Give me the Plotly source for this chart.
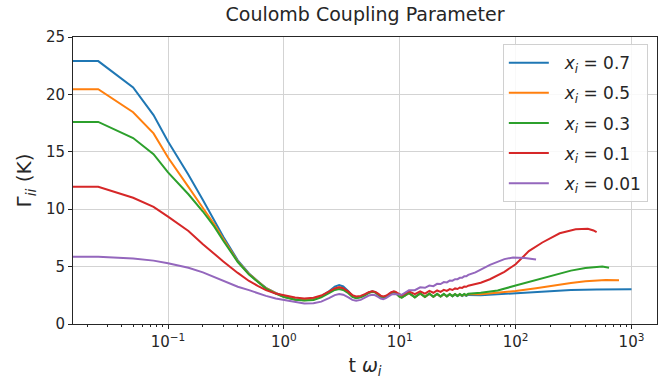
import plotly.graph_objects as go

# ---------------------------------------------------------------------------
# Coulomb coupling parameter Gamma_ii(t) for several ion fractions x_i
# ---------------------------------------------------------------------------

LABELS = ["0.7", "0.5", "0.3", "0.1", "0.01"]
COLORS = ["#1f77b4", "#ff7f0e", "#2ca02c", "#d62728", "#9467bd"]

# t = 0 cannot sit on a log axis; a tiny positive time stands in for it
T_EARLY = [0.001, 0.025, 0.05, 0.075, 0.1, 0.125, 0.15, 0.2, 0.25, 0.3,
           0.4, 0.5, 0.6, 0.7, 0.85]

# plasma-oscillation window
T_OSC = [1.0, 1.25, 1.5, 1.8, 2.1, 2.45, 2.75, 3.0, 3.25, 3.6, 3.9, 4.2,
         4.6, 5.0, 5.4, 5.8, 6.15, 6.5, 6.85, 7.2, 7.6, 8.0, 8.45, 8.9,
         9.25, 9.6, 10.0, 10.4,
         12.0, 13.5, 15.0, 16.5, 18.0, 19.5, 21.0, 22.5, 24.0, 25.5, 27.0,
         28.5, 30.0, 31.5, 33.0, 34.5, 36.0, 37.5, 39.0]

# x_i = 0.7
G07_EARLY = [22.9, 22.9, 20.6, 18.2, 15.9, 14.35, 13.0, 10.8, 9.1, 7.6,
             5.55, 4.4, 3.7, 3.15, 2.7]
G07_OSC = [2.4, 2.15, 2.08, 2.15, 2.4, 2.85, 3.25, 3.4, 3.27, 2.85, 2.45,
           2.3, 2.36, 2.55, 2.76, 2.85, 2.78, 2.58, 2.38, 2.3, 2.38, 2.55,
           2.72, 2.8, 2.72, 2.55, 2.38, 2.32,
           2.68, 2.34, 2.65, 2.36, 2.62, 2.38, 2.6, 2.4, 2.58, 2.41, 2.57,
           2.42, 2.56, 2.43, 2.55, 2.44, 2.54, 2.45, 2.53]
T07_TAIL = [50, 70, 100, 150, 200, 300, 500, 700, 1000]
G07_TAIL = [2.5, 2.58, 2.68, 2.8, 2.88, 2.96, 3.0, 3.02, 3.02]

# x_i = 0.5
G05_EARLY = [20.45, 20.45, 18.45, 16.6, 14.5, 13.15, 11.95, 10.1, 8.7, 7.4,
             5.45, 4.35, 3.65, 3.12, 2.68]
G05_OSC = [2.38, 2.14, 2.07, 2.14, 2.38, 2.78, 3.1, 3.2, 3.1, 2.75, 2.4,
           2.28, 2.34, 2.52, 2.73, 2.82, 2.76, 2.57, 2.38, 2.3, 2.37, 2.53,
           2.72, 2.8, 2.72, 2.55, 2.37, 2.31,
           2.69, 2.33, 2.66, 2.36, 2.64, 2.38, 2.62, 2.4, 2.6, 2.42, 2.6,
           2.44, 2.59, 2.46, 2.59, 2.48, 2.59, 2.5, 2.6]
T05_TAIL = [50, 70, 100, 150, 200, 300, 400, 500, 600, 780]
G05_TAIL = [2.6, 2.72, 2.88, 3.12, 3.32, 3.58, 3.72, 3.8, 3.83, 3.82]

# x_i = 0.3
G03_EARLY = [17.6, 17.6, 16.2, 14.8, 13.2, 12.2, 11.3, 9.8, 8.5, 7.25,
             5.4, 4.3, 3.6, 3.08, 2.65]
G03_OSC = [2.35, 2.12, 2.05, 2.1, 2.32, 2.68, 2.97, 3.05, 2.97, 2.68, 2.36,
           2.25, 2.32, 2.5, 2.7, 2.8, 2.74, 2.56, 2.37, 2.3, 2.37, 2.53,
           2.7, 2.78, 2.7, 2.53, 2.36, 2.3,
           2.7, 2.32, 2.68, 2.35, 2.66, 2.37, 2.64, 2.39, 2.63, 2.41, 2.62,
           2.43, 2.62, 2.45, 2.62, 2.48, 2.62, 2.51, 2.63]
T03_TAIL = [50, 70, 100, 150, 200, 300, 400, 500, 560, 640]
G03_TAIL = [2.72, 2.92, 3.35, 3.85, 4.2, 4.65, 4.88, 4.98, 5.0, 4.9]

# x_i = 0.1
G01_EARLY = [11.95, 11.95, 11.0, 10.2, 9.35, 8.7, 8.1, 6.95, 6.1, 5.45,
             4.45, 3.75, 3.3, 2.95, 2.65]
G01_OSC = [2.5, 2.3, 2.22, 2.28, 2.48, 2.82, 3.1, 3.2, 3.12, 2.82, 2.52,
           2.4, 2.45, 2.6, 2.78, 2.85, 2.8, 2.64, 2.47, 2.4, 2.46, 2.6,
           2.77, 2.85, 2.8, 2.68, 2.55, 2.5,
           2.85, 2.6, 2.85, 2.65, 2.88, 2.72, 2.92, 2.8, 2.98, 2.88, 3.04,
           2.96, 3.1, 3.05, 3.18, 3.14, 3.26, 3.24, 3.34]
T01_TAIL = [50, 60, 80, 100, 130, 170, 240, 330, 420, 470, 500]
G01_TAIL = [3.6, 3.9, 4.55, 5.2, 6.35, 7.1, 7.9, 8.25, 8.3, 8.15, 8.0]

# x_i = 0.01
G001_EARLY = [5.85, 5.85, 5.7, 5.52, 5.3, 5.1, 4.9, 4.5, 4.1, 3.75, 3.25,
              2.95, 2.65, 2.45, 2.22]
G001_OSC = [2.1, 1.9, 1.78, 1.8, 1.95, 2.25, 2.52, 2.62, 2.55, 2.32, 2.1,
            2.02, 2.1, 2.3, 2.48, 2.55, 2.5, 2.36, 2.22, 2.17, 2.25, 2.4,
            2.56, 2.62, 2.6, 2.55, 2.52, 2.55,
            2.95, 2.95, 3.2, 3.15, 3.35, 3.3, 3.5, 3.48, 3.65, 3.62, 3.78,
            3.77, 3.9, 3.9, 4.02, 4.02, 4.15, 4.15, 4.28]
T001_TAIL = [45, 60, 80, 95, 120, 150]
G001_TAIL = [4.5, 5.15, 5.65, 5.8, 5.75, 5.62]

SERIES = [
    (G07_EARLY, G07_OSC, T07_TAIL, G07_TAIL),
    (G05_EARLY, G05_OSC, T05_TAIL, G05_TAIL),
    (G03_EARLY, G03_OSC, T03_TAIL, G03_TAIL),
    (G01_EARLY, G01_OSC, T01_TAIL, G01_TAIL),
    (G001_EARLY, G001_OSC, T001_TAIL, G001_TAIL),
]

X_TICKS = [0.1, 1, 10, 100, 1000]
X_TICKTEXT = ["10<sup>\u22121</sup>", "10<sup>0</sup>", "10<sup>1</sup>",
              "10<sup>2</sup>", "10<sup>3</sup>"]
Y_TICKS = [0, 5, 10, 15, 20, 25]

FONT = "DejaVu Sans"
INK = "#262626"

fig = go.Figure()
for i, (lab, col, (early, osc, t_tail, g_tail)) in enumerate(zip(LABELS, COLORS, SERIES)):
    fig.add_trace(go.Scatter(
        x=T_EARLY + T_OSC + t_tail,
        y=early + osc + g_tail,
        mode="lines",
        line=dict(color=col, width=2),
        name=f"\u00a0\u00a0<i>x</i><sub><i>i</i></sub> = {lab}",
        legendgroup=f"g{i}",
    ))

minor_vals = [m * 10 ** k for k in range(-2, 4) for m in range(2, 10)]

fig.update_layout(
    width=663, height=381,
    margin=dict(l=73, r=6, t=37, b=57),
    paper_bgcolor="white", plot_bgcolor="white",
    font=dict(family=FONT, color=INK, size=14),
    title=dict(text="Coulomb Coupling Parameter", x=0.5, xref="paper",
               xanchor="center", y=0.963, yanchor="middle",
               font=dict(size=19, family=FONT, color=INK)),
    showlegend=True,
    legend=dict(x=0.736, y=0.975, xanchor="left", yanchor="top",
                bgcolor="rgba(255,255,255,0.85)", bordercolor="#d0d0d0",
                borderwidth=1, font=dict(size=17, family=FONT, color=INK),
                traceorder="grouped", tracegroupgap=5, itemwidth=40),
)

fig.update_xaxes(
    type="log", range=[-1.82, 3.22],
    tickmode="array", tickvals=X_TICKS, ticktext=X_TICKTEXT,
    tickfont=dict(size=15), ticks="outside", ticklen=4, tickcolor=INK,
    showline=True, linecolor=INK, linewidth=1, mirror=True,
    showgrid=True, gridcolor="#d3d3d3", gridwidth=1, zeroline=False,
    minor=dict(tickmode="array", tickvals=minor_vals, ticks="outside",
               ticklen=2, tickcolor=INK, showgrid=False),
    title=dict(text="t <i>\u03c9</i><sub><i>i</i></sub>",
               font=dict(size=19), standoff=8),
)
fig.update_yaxes(
    range=[0, 25], tickmode="array", tickvals=Y_TICKS,
    tickfont=dict(size=15), ticks="outside", ticklen=4, tickcolor=INK,
    showline=True, linecolor=INK, linewidth=1, mirror=True,
    showgrid=True, gridcolor="#d3d3d3", gridwidth=1, zeroline=False,
    title=dict(text="\u0393<sub><i>ii</i></sub> (K)", font=dict(size=20),
               standoff=8),
)

fig.write_html("out.html")
